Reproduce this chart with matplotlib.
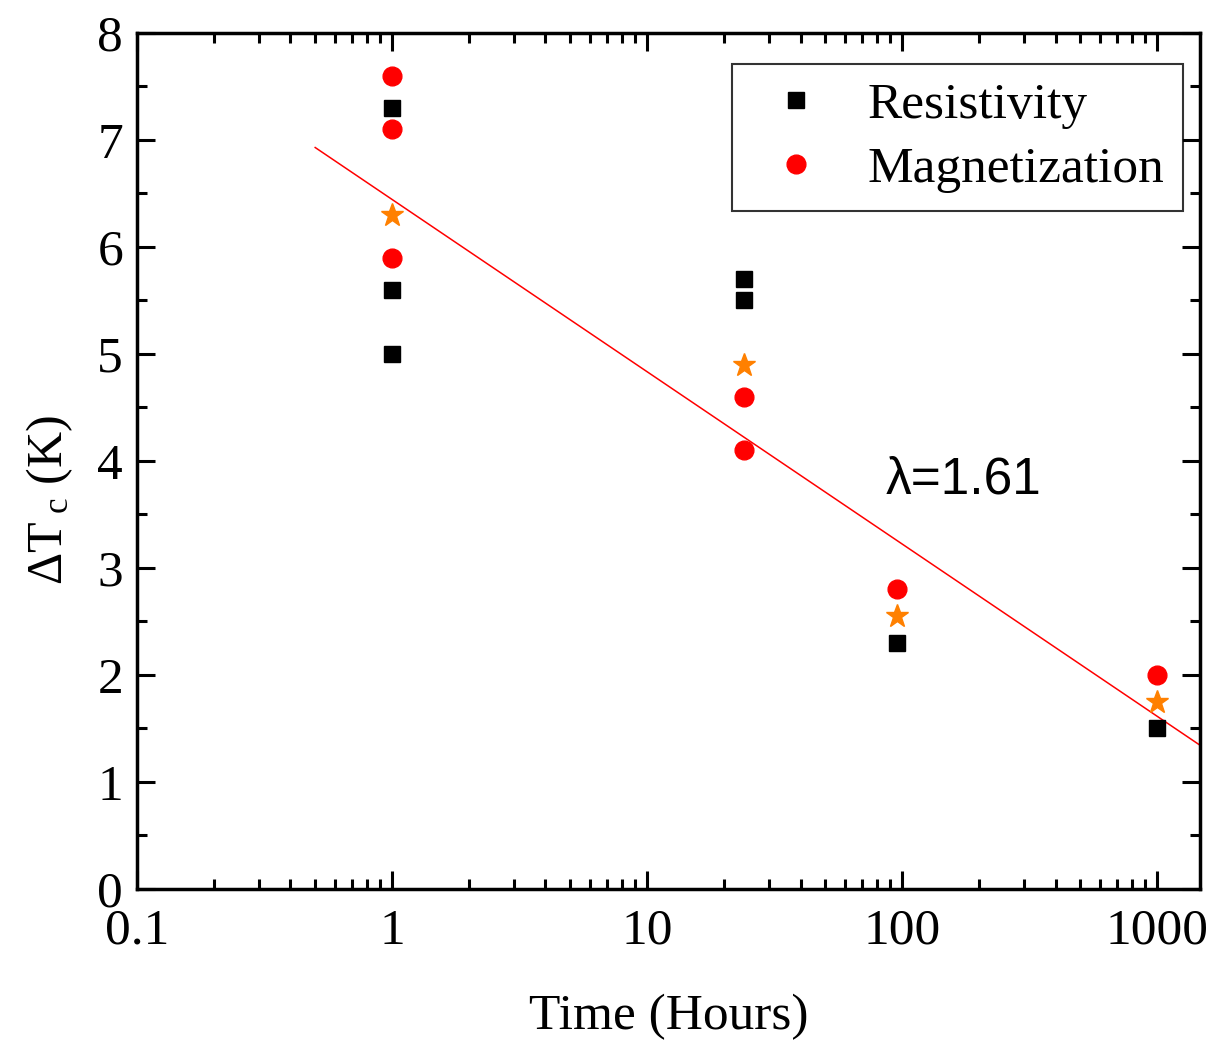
import numpy as np
import matplotlib
matplotlib.use("Agg")
import matplotlib.pyplot as plt
from matplotlib.ticker import LogLocator, FixedLocator, FuncFormatter, MultipleLocator

plt.rcParams["font.family"] = ["Liberation Serif", "DejaVu Serif"]
plt.rcParams["mathtext.fontset"] = "custom"
plt.rcParams["mathtext.rm"] = "Liberation Serif"
plt.rcParams["mathtext.it"] = "Liberation Serif:italic"

# data
res_t = [1, 1, 1, 24, 24, 96, 1000]
res_dT = [7.3, 5.6, 5.0, 5.7, 5.5, 2.3, 1.5]
mag_t = [1, 1, 1, 24, 24, 96, 1000]
mag_dT = [7.6, 7.1, 5.9, 4.6, 4.1, 2.8, 2.0]
avg_t = [1, 24, 96, 1000]
avg_dT = [6.3, 4.9, 2.55, 1.75]
fit_t = [0.5, 1500]
lam = 1.61
fit_a = 6.445

fig = plt.figure(figsize=(12.14, 10.44), dpi=100)
ax = fig.add_axes([0.1128, 0.1485, 0.8757, 0.8199])

fit_y = [fit_a - lam * np.log10(t) for t in fit_t]
ax.plot(fit_t, fit_y, color="red", lw=1.1, zorder=1)
ax.plot(res_t, res_dT, "s", color="black", ms=11.5, ls="none", label="Resistivity", zorder=3)
ax.plot(mag_t, mag_dT, "o", color="red", ms=13.5, ls="none", label="Magnetization", zorder=3)
ax.plot(avg_t, avg_dT, "*", color="#ff8000", ms=17, ls="none", zorder=3)

ax.set_xscale("log")
ax.set_xlim(0.1, 1475)
ax.set_ylim(0, 8)
ax.xaxis.set_major_locator(FixedLocator([0.1, 1, 10, 100, 1000]))
ax.xaxis.set_minor_locator(LogLocator(base=10, subs=np.arange(2, 10)))
ax.xaxis.set_major_formatter(FuncFormatter(lambda v, p: "%g" % v))
ax.yaxis.set_major_locator(MultipleLocator(1))
ax.yaxis.set_minor_locator(MultipleLocator(0.5))

ax.tick_params(which="both", direction="in", top=True, right=True, width=2.2,
               labelsize=37)
ax.tick_params(which="major", length=13)
ax.tick_params(which="minor", length=7)
ax.tick_params(axis="x", which="major", pad=14)
ax.tick_params(axis="y", which="major", pad=10)
for s in ax.spines.values():
    s.set_linewidth(2.5)

ax.set_xlabel("Time (Hours)", fontsize=37, labelpad=28)
ax.set_ylabel(r"ΔT$_{\ \mathrm{c}}$ (K)", fontsize=36)
ax.yaxis.set_label_coords(-0.058, 0.454)

ax.text(0.7045, 0.462, "λ=1.61", transform=ax.transAxes, fontsize=37,
        family=["Liberation Sans", "DejaVu Sans"])

leg = ax.legend(loc="upper right", bbox_to_anchor=(1183 / 1214, 1 - 64 / 1044),
                bbox_transform=fig.transFigure, fontsize=37, borderaxespad=0,
                frameon=True, fancybox=False, edgecolor="black",
                handletextpad=0.5, borderpad=0.36, labelspacing=0.32,
                handlelength=1.78)
leg.get_frame().set_linewidth(1.5)

fig.savefig("out.png", dpi=100)
